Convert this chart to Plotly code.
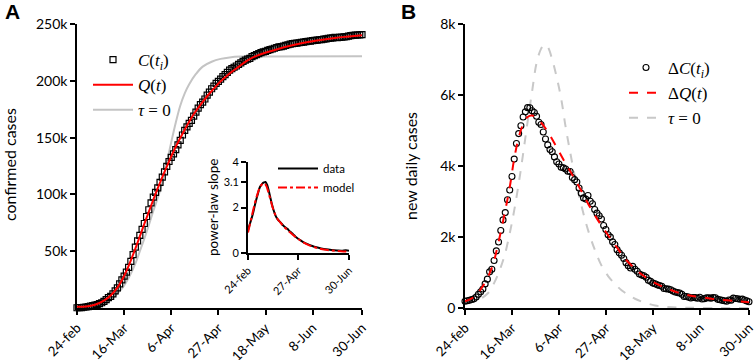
import plotly.graph_objects as go

# ---------------- data (days since 24-Feb-2020) ----------------
days = list(range(128))
tick_days = [0, 21, 42, 63, 84, 105, 127]
tick_labels = ["24-feb", "16-Mar", "6-Apr", "27-Apr", "18-May", "8-Jun", "30-Jun"]

confirmed = [229, 322, 400, 650, 888, 1128, 1694, 2036, 2502, 3089, 3858, 4636, 5883, 7375, 9172, 10149,
             12462, 15113, 17660, 21157, 24747, 27980, 31506, 35713, 41035, 47021, 53578, 59138, 63927,
             69176, 74386, 80539, 86498, 92472, 97689, 101739, 105792, 110574, 115242, 119827, 124632,
             128948, 132547, 135586, 139422, 143626, 147577, 152271, 156363, 159516, 162488, 165155,
             168941, 172434, 175925, 178972, 181228, 183957, 187327, 189973, 192994, 195351, 197675,
             199414, 201505, 203591, 205463, 207428, 209328, 210717, 211938, 213013, 214457, 215858,
             217185, 218268, 219070, 219814, 221216, 222104, 223096, 223885, 224760, 225435, 225886,
             226699, 227364, 228006, 228658, 229327, 229858, 230158, 230555, 231139, 231732, 232248,
             232664, 233019, 233197, 233515, 233836, 234013, 234531, 234801, 234998, 235278, 235561,
             235763, 236142, 236305, 236651, 236989, 237290, 237500, 237828, 238159, 238011, 238275,
             238499, 238720, 238833, 239410, 239706, 239961, 240136, 240310, 240436, 240578]

daily_new = [190, 205, 220, 240, 258, 311, 384, 458, 535, 679, 812, 1019, 1092, 1339, 1608, 1861, 2182,
             2482, 2687, 3051, 3322, 3703, 4194, 4632, 4913, 5135, 5381, 5525, 5643, 5640, 5556, 5507,
             5402, 5231, 5170, 4958, 4761, 4594, 4466, 4401, 4256, 4121, 4055, 3964, 3948, 3916, 3853,
             3843, 3676, 3616, 3551, 3379, 3230, 3102, 3067, 3167, 3005, 2937, 2775, 2672, 2598, 2507,
             2323, 2213, 2062, 1997, 1863, 1789, 1644, 1552, 1485, 1394, 1277, 1193, 1125, 1172, 1092,
             1034, 957, 927, 909, 867, 783, 751, 701, 682, 652, 632, 610, 551, 539, 532, 513, 477, 452,
             434, 423, 385, 326, 326, 305, 283, 297, 292, 275, 304, 253, 264, 284, 287, 277, 295, 288,
             244, 232, 216, 204, 190, 226, 221, 279, 266, 259, 245, 249, 225, 200, 175]

q_days = [0, 4, 8, 12, 15, 18, 20, 22, 24, 26, 28, 30, 33, 36, 40, 44, 48, 52, 56, 60, 64, 68, 72, 76,
          80, 85, 90, 95, 100, 105, 110, 115, 120, 127]
q_vals = [1000, 1300, 2900, 6500, 11000, 18000, 24500, 32500, 42000, 52300, 63000, 74000, 90000,
          105500, 124500, 142000, 157000, 170500, 181500, 191000, 199500, 206500, 212300, 218000,
          222000, 225300, 228200, 230800, 233000, 234800, 236300, 237700, 238800, 240200]

tau0_days = [0, 5, 10, 15, 20, 23, 26, 28, 30, 32, 34, 36, 37, 38, 40, 42, 44, 46, 48, 50, 53, 56, 60,
             64, 68, 73, 80, 127]
tau0_vals = [500, 1200, 3000, 7500, 17000, 26500, 39000, 50000, 61000, 73000, 85500, 97000, 103500,
             111000, 128000, 146000, 163000, 178000, 189000, 197000, 206000, 212500, 216800, 219300,
             220600, 221300, 221500, 221600]

dq_days = [0, 4, 8, 12, 15, 18, 20, 22, 24, 26, 28, 30, 33, 36, 40, 44, 48, 52, 56, 60, 64, 68, 72, 76,
           80, 85, 90, 95, 100, 107, 115, 122, 127]
dq_vals = [190, 310, 620, 1130, 1860, 2750, 3400, 4200, 4800, 5180, 5380, 5420, 5290, 5060, 4640, 4180,
           3750, 3300, 2830, 2420, 2050, 1700, 1360, 1110, 900, 700, 560, 440, 360, 290, 225, 190, 165]

dtau0_days = [0, 5, 10, 13, 16, 18, 20, 22, 24, 26, 28, 30, 32, 34, 35.5, 37, 39, 41, 43, 45, 47, 49, 52,
              55, 58, 61, 64, 67, 70, 73, 76, 80, 85, 90, 100, 127]
dtau0_vals = [150, 200, 400, 700, 1150, 1550, 2100, 2750, 3500, 4350, 5250, 6100, 6900, 7300, 7420,
              7350, 7000, 6500, 5900, 5100, 4400, 3750, 2900, 2200, 1650, 1200, 900, 680, 500, 370,
              260, 160, 70, 30, 8, 0]

slope_days = [0, 3, 6, 9, 12, 15, 18, 20, 22, 24, 26, 28, 30, 32, 34, 36, 38, 40, 42, 44, 46, 48, 50,
              52, 55, 58, 61, 65, 70, 75, 80, 86, 92, 98, 105, 112, 118, 123, 127]
slope_data = [1.0, 1.35, 1.7, 2.15, 2.55, 2.9, 3.05, 3.1, 3.12, 3.0, 2.75, 2.45, 2.15, 1.9, 1.7, 1.55,
              1.45, 1.38, 1.3, 1.22, 1.15, 1.1, 1.05, 0.97, 0.88, 0.78, 0.68, 0.58, 0.47, 0.39, 0.32,
              0.25, 0.2, 0.16, 0.13, 0.11, 0.1, 0.12, 0.1]
model_days = [0, 4, 8, 12, 16, 19, 21, 23, 25, 27, 29, 31, 33, 35, 38, 41, 44, 48, 52, 56, 60, 65, 70,
              75, 80, 86, 92, 98, 105, 112, 120, 127]
slope_model = [0.9, 1.5, 2.1, 2.6, 2.95, 3.05, 3.05, 2.95, 2.75, 2.5, 2.25, 2.0, 1.8, 1.62, 1.45, 1.33,
               1.2, 1.06, 0.93, 0.81, 0.7, 0.57, 0.46, 0.37, 0.3, 0.23, 0.18, 0.14, 0.11, 0.09, 0.07,
               0.06]
inset_ticks = [0, 63, 127]
inset_labels = ["24-feb", "27-Apr", "30-Jun"]

# ---------------- figure ----------------
W, H = 754, 360
def px_x(p): return p / W
def px_y(p): return 1 - p / H

SANS = "Lato"
SERIF = "Liberation Serif"
fig = go.Figure()

# Panel A
fig.add_trace(go.Scatter(x=tau0_days, y=tau0_vals, mode="lines", line=dict(color="#c4c4c4", width=2, shape="spline"),
                         name="<i>τ</i> = 0", legend="legend", legendrank=3, xaxis="x", yaxis="y"))
fig.add_trace(go.Scatter(x=days, y=confirmed, mode="markers", cliponaxis=False,
                         marker=dict(symbol="square-open", size=6, color="black", line=dict(width=1.2)),
                         name="<i>C</i>(<i>t<sub>i</sub></i>)", legend="legend", legendrank=1, xaxis="x", yaxis="y"))
fig.add_trace(go.Scatter(x=q_days, y=q_vals, mode="lines", line=dict(color="#ff0000", width=2, shape="spline"),
                         name="<i>Q</i>(<i>t</i>)", legend="legend", legendrank=2, xaxis="x", yaxis="y"))

# Panel B
fig.add_trace(go.Scatter(x=dtau0_days, y=dtau0_vals, mode="lines",
                         line=dict(color="#c8c8c8", width=2, dash="dash", shape="spline"),
                         name="<i>τ</i> = 0", legend="legend3", legendrank=3, xaxis="x2", yaxis="y2"))
fig.add_trace(go.Scatter(x=days, y=daily_new, mode="markers", cliponaxis=False,
                         marker=dict(symbol="circle-open", size=6, color="black", line=dict(width=1.1)),
                         name="Δ<i>C</i>(<i>t<sub>i</sub></i>)", legend="legend3", legendrank=1, xaxis="x2", yaxis="y2"))
fig.add_trace(go.Scatter(x=dq_days, y=dq_vals, mode="lines",
                         line=dict(color="#ff0000", width=2, dash="dash", shape="spline"),
                         name="Δ<i>Q</i>(<i>t</i>)", legend="legend3", legendrank=2, xaxis="x2", yaxis="y2"))

# Inset
fig.add_trace(go.Scatter(x=slope_days, y=slope_data, mode="lines", line=dict(color="black", width=2, shape="spline"),
                         name="data", legend="legend2", xaxis="x3", yaxis="y3"))
fig.add_trace(go.Scatter(x=model_days, y=slope_model, mode="lines",
                         line=dict(color="#ff0000", width=2, dash="dashdot", shape="spline"),
                         name="model", legend="legend2", xaxis="x3", yaxis="y3"))

axis_common = dict(showline=True, linecolor="black", linewidth=1.6, ticks="outside", ticklen=5,
                   tickwidth=1.6, tickcolor="black", showgrid=False, zeroline=False, mirror=False,
                   automargin=False, ticklabeloverflow="allow")

fig.update_layout(
    width=W, height=H, margin=dict(l=0, r=0, t=0, b=0, autoexpand=False),
    paper_bgcolor="white", plot_bgcolor="rgba(0,0,0,0)",
    font=dict(family=SANS, color="black"),
    xaxis=dict(domain=[px_x(77), px_x(362)], range=[0, 127], tickvals=tick_days, ticktext=tick_labels,
               tickangle=-45, tickfont=dict(size=13.5), anchor="y", **axis_common),
    yaxis=dict(domain=[px_y(308), px_y(24)], range=[0, 250000],
               tickvals=[50000, 100000, 150000, 200000, 250000],
               ticktext=["50k", "100k", "150k", "200k", "250k"], tickfont=dict(size=14), anchor="x",
               **axis_common),
    xaxis2=dict(domain=[px_x(465), px_x(749)], range=[0, 127], tickvals=tick_days, ticktext=tick_labels,
                tickangle=-45, tickfont=dict(size=13.5), anchor="y2", **axis_common),
    yaxis2=dict(domain=[px_y(308), px_y(24)], range=[0, 8000],
                tickvals=[0, 2000, 4000, 6000, 8000], ticktext=["0", "2k", "4k", "6k", "8k"],
                tickfont=dict(size=14), anchor="x2", **axis_common),
    xaxis3=dict(domain=[px_x(248), px_x(349)], range=[0, 127], tickvals=inset_ticks, ticktext=inset_labels,
                tickangle=-45, tickfont=dict(size=11), anchor="y3", **axis_common),
    yaxis3=dict(domain=[px_y(253), px_y(162)], range=[0, 4], tickvals=[0, 2, 3.1, 4],
                ticktext=["0", "2", "3.1", "4"], tickfont=dict(size=11), anchor="x3", **axis_common),
    legend=dict(x=px_x(88), y=px_y(42), xanchor="left", yanchor="top", bgcolor="rgba(0,0,0,0)",
                font=dict(family=SERIF, size=17), tracegroupgap=0, itemsizing="trace", itemwidth=40),
    legend3=dict(x=px_x(624), y=px_y(50), xanchor="left", yanchor="top", bgcolor="rgba(0,0,0,0)",
                 font=dict(family=SERIF, size=17), tracegroupgap=0, itemsizing="trace", itemwidth=34),
    legend2=dict(x=px_x(273), y=px_y(154), xanchor="left", yanchor="top", bgcolor="rgba(0,0,0,0)",
                 font=dict(family=SANS, size=11.5), tracegroupgap=0, itemwidth=40),
    showlegend=True,
    annotations=[
        dict(text="<b>A</b>", x=px_x(12), y=px_y(11), xref="paper", yref="paper", showarrow=False,
             font=dict(family="Liberation Sans", size=21), xanchor="center", yanchor="middle"),
        dict(text="<b>B</b>", x=px_x(408), y=px_y(11), xref="paper", yref="paper", showarrow=False,
             font=dict(family="Liberation Sans", size=21), xanchor="center", yanchor="middle"),
        dict(text="confirmed cases", x=px_x(10), y=px_y(165), xref="paper", yref="paper", showarrow=False,
             textangle=-90, font=dict(size=16), xanchor="center", yanchor="middle"),
        dict(text="new daily cases", x=px_x(410), y=px_y(166), xref="paper", yref="paper", showarrow=False,
             textangle=-90, font=dict(size=16), xanchor="center", yanchor="middle"),
        dict(text="power-law slope", x=px_x(213), y=px_y(208), xref="paper", yref="paper", showarrow=False,
             textangle=-90, font=dict(size=13.5), xanchor="center", yanchor="middle"),
    ],
)

fig.write_html("out.html", config={"displayModeBar": False},
               post_script="document.body.style.margin='0';")
